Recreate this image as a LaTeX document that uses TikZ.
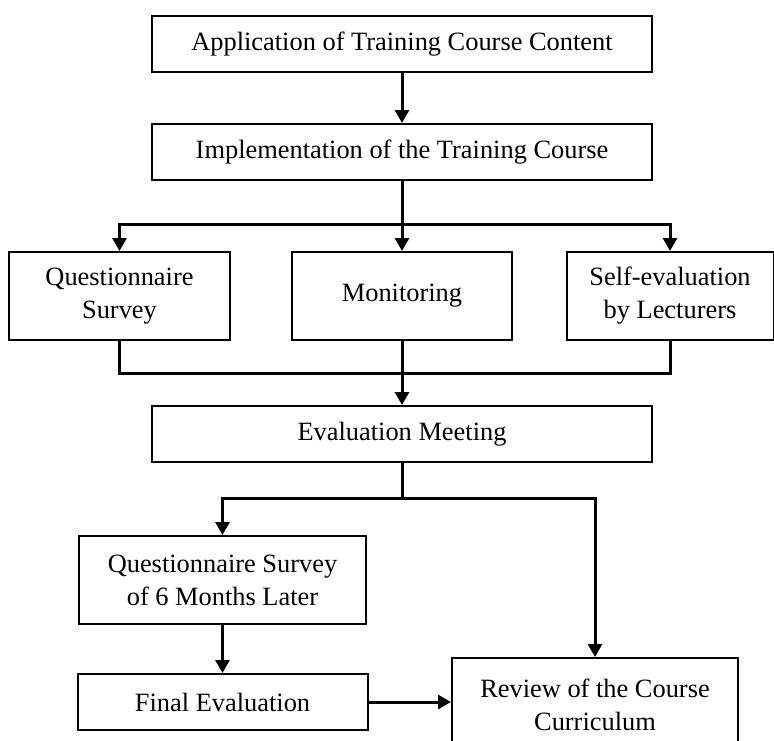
\documentclass[tikz,border=0pt]{standalone}
\usepackage{fontspec}
\setmainfont{Liberation Serif}
\usetikzlibrary{arrows.meta}
\tikzset{
	stage/.style={draw, line width=2pt, align=center, inner sep=0pt,
		font=\fontsize{26.4}{33}\selectfont},
	flow/.style={line width=3pt, -{Triangle[width=14pt,length=13pt]}},
	link/.style={line width=3pt}
}
\begin{document}
\begin{tikzpicture}[x=1pt,y=-1pt]
	\useasboundingbox (0,0) rectangle (774,740);

	\node[stage, minimum width=500pt, minimum height=56pt] (app) at (402,44) {Application of Training Course Content};
	\node[stage, minimum width=500pt, minimum height=56pt] (impl) at (402,152) {Implementation of the Training Course};

	\node[stage, minimum width=221pt, minimum height=88pt] (qs) at (119.5,296) {Questionnaire\\Survey};
	\node[stage, minimum width=220pt, minimum height=88pt] (mon) at (402,296) {Monitoring};
	\node[stage, minimum width=207pt, minimum height=88pt] (self) at (670,296) {Self-evaluation\\by Lecturers};

	\node[stage, minimum width=500pt, minimum height=56pt] (meet) at (402,434) {Evaluation Meeting};

	\node[stage, minimum width=287pt, minimum height=88pt] (later) at (222.5,580) {Questionnaire Survey\\of 6 Months Later};
	\node[stage, minimum width=290pt, minimum height=56pt] (final) at (222.5,702) {Final Evaluation};
	\node[stage, minimum width=286pt, minimum height=94pt] (review) at (595,705) {Review of the Course\\Curriculum};

	% verbindungen
	\coordinate (split) at (402,224);
	\coordinate (join) at (402,373);
	\coordinate (fork) at (402,498);

	\draw[flow] (app) -- (impl);
	\draw[link] (impl) -- (split);
	\foreach \n in {qs,mon,self} {
		\draw[flow] (split) -| (\n);
	}
	\draw[link] (qs) |- (join);
	\draw[link] (self) |- (join);
	\draw[flow] (mon) -- (meet);

	\draw[link] (meet) -- (fork);
	\draw[flow] (fork) -| (later);
	\draw[flow] (fork) -| (review);
	\draw[flow] (later) -- (final);
	\draw[flow] (final.east) -- (final.east -| review.west);
\end{tikzpicture}
\end{document}
